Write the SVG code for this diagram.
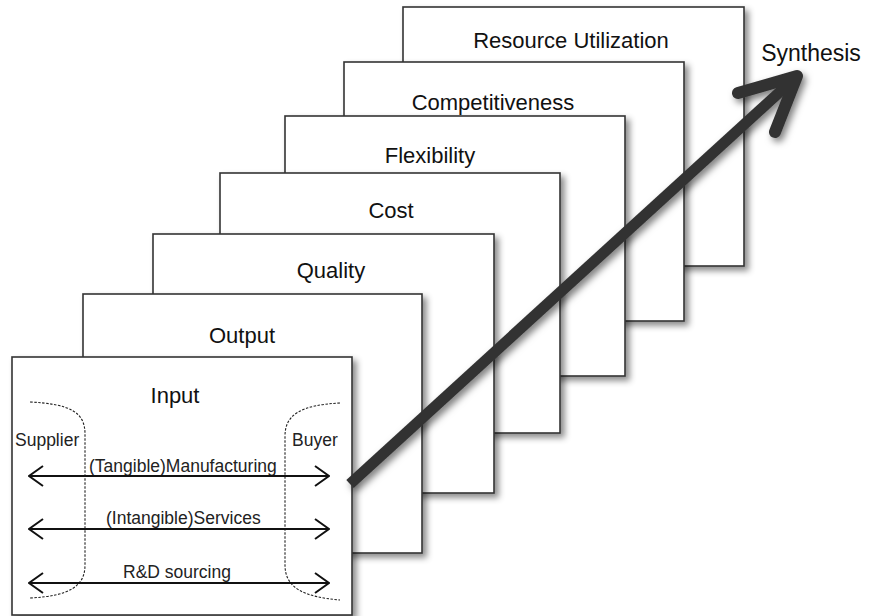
<svg xmlns="http://www.w3.org/2000/svg" width="871" height="616" viewBox="0 0 871 616">
<defs>
<filter id="sh" x="-10%" y="-10%" width="125%" height="125%">
<feDropShadow dx="4" dy="4" stdDeviation="3" flood-color="#000" flood-opacity="0.45"/>
</filter>
<filter id="ash" x="-10%" y="-10%" width="130%" height="130%">
<feDropShadow dx="3" dy="4" stdDeviation="3.5" flood-color="#000" flood-opacity="0.5"/>
</filter>
<marker id="ah" viewBox="0 0 16 22" refX="15" refY="11" markerWidth="16" markerHeight="22" markerUnits="userSpaceOnUse" orient="auto-start-reverse">
<path d="M1,1 L15,11 L1,21" fill="none" stroke="#111" stroke-width="2"/>
</marker>
</defs>
<style>
.box{fill:#fff;stroke:#333;stroke-width:1.6;filter:url(#sh)}
.t{font-family:"Liberation Sans",Arial,sans-serif;font-size:22px;fill:#111;text-anchor:middle}
.s{font-family:"Liberation Sans",Arial,sans-serif;font-size:17.5px;fill:#222}
.d{fill:none;stroke:#222;stroke-width:1.1;stroke-dasharray:2.5 1.5}
.f{stroke:#111;stroke-width:2;fill:none;marker-start:url(#ah);marker-end:url(#ah)}
</style>
<rect width="871" height="616" fill="#fff"/>
<g id="resource"><rect class="box" x="403" y="7" width="341" height="259"/><text class="t" x="571" y="48">Resource Utilization</text></g>
<g id="competitiveness"><rect class="box" x="344" y="62" width="340" height="259"/><text class="t" x="493" y="110">Competitiveness</text></g>
<g id="flexibility"><rect class="box" x="285" y="116" width="340" height="260"/><text class="t" x="430" y="163">Flexibility</text></g>
<g id="cost"><rect class="box" x="220" y="173" width="340" height="260"/><text class="t" x="391" y="218">Cost</text></g>
<g id="quality"><rect class="box" x="153" y="234" width="341" height="259"/><text class="t" x="331" y="278">Quality</text></g>
<g id="output"><rect class="box" x="83" y="294" width="339" height="259"/><text class="t" x="242" y="343">Output</text></g>
<g id="input">
<rect class="box" x="12" y="357" width="340" height="258"/>
<text class="t" x="175" y="403">Input</text>
<path class="d" d="M30,402 C70,404 85,412 85,434 L85,565 C85,586 70,596 30,598"/>
<path class="d" d="M340,403 C302,405 285,414 285,436 L285,565 C285,588 304,597 340,600"/>
<text class="s" x="15" y="446">Supplier</text>
<text class="s" x="292" y="446">Buyer</text>
<text class="s" x="89" y="472">(Tangible)Manufacturing</text>
<text class="s" x="106" y="524">(Intangible)Services</text>
<text class="s" x="123" y="578">R&amp;D sourcing</text>
</g>
<g id="connectors">
<line class="f" x1="29" y1="476" x2="329" y2="476"/>
<line class="f" x1="29" y1="529" x2="329" y2="529"/>
<line class="f" x1="29" y1="583" x2="329" y2="583"/>
<g id="synthesis-arrow" filter="url(#ash)" stroke="#333" fill="none">
<line x1="350" y1="484" x2="794" y2="79" stroke-width="11"/>
<polyline points="738,93 797,76 775,132" stroke-width="12" stroke-linecap="round" stroke-linejoin="round"/>
</g>
</g>
<g id="synthesis"><text class="t" x="811" y="61" style="font-size:23px">Synthesis</text></g>
</svg>
